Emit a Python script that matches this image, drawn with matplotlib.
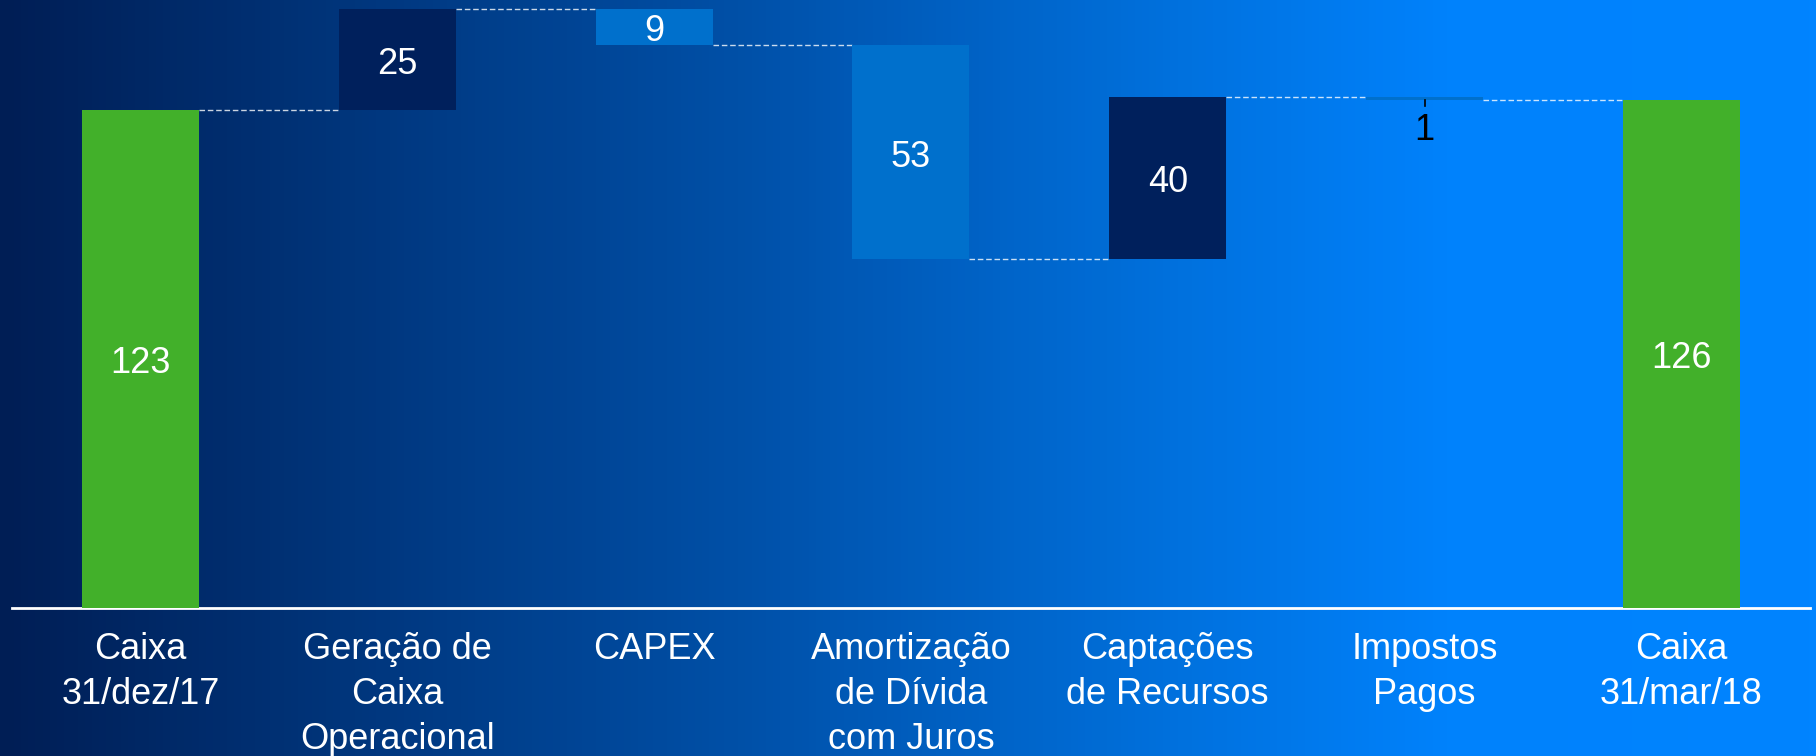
import numpy as np
import matplotlib.pyplot as plt
from matplotlib.colors import LinearSegmentedColormap

plt.rcParams['font.family'] = ['Liberation Sans', 'DejaVu Sans']

# data
categories = ['Caixa\n31/dez/17', 'Geração de\nCaixa\nOperacional', 'CAPEX',
              'Amortização\nde Dívida\ncom Juros', 'Captações\nde Recursos',
              'Impostos\nPagos', 'Caixa\n31/mar/18']
start_value = 122.9
changes = [24.9, -8.9, -52.9, 40.1, -0.7]
end_value = 125.4
value_labels = ['123', '25', '9', '53', '40', '1', '126']

green = '#42b02a'
navy = '#00205c'
mid_blue = '#0070cc'
bar_colors = [green, navy, mid_blue, mid_blue, navy, mid_blue, green]
label_colors = ['white', 'white', 'white', 'white', 'white', 'black', 'white']

# bottoms / heights of the floating bars
bottoms = [0]
heights = [start_value]
levels = [start_value]
level = start_value
for c in changes:
    bottoms.append(min(level, level + c))
    heights.append(abs(c))
    level = level + c
    levels.append(level)
bottoms.append(0)
heights.append(end_value)

fig = plt.figure(figsize=(18.16, 7.56), dpi=100)

# gradient background
bg = fig.add_axes([0, 0, 1, 1], zorder=0)
cmap = LinearSegmentedColormap.from_list(
    'bg', [(0, '#001e55'), (0.4, '#004fa6'), (0.64, '#0070dc'),
           (0.8, '#0082fc'), (1, '#0084ff')])
bg.imshow(np.linspace(0, 1, 512).reshape(1, -1), cmap=cmap, aspect='auto',
          extent=[0, 1, 0, 1])
bg.axis('off')

ax = fig.add_axes([0.0066, 0.1958, 0.99, 0.8042], zorder=1)
ax.patch.set_alpha(0)
x = np.arange(len(categories))
width = 0.455
ax.bar(x, heights, bottom=bottoms, width=width, color=bar_colors, zorder=3)

# dashed connectors between bars
for i in range(len(categories) - 1):
    ax.plot([x[i] + width / 2, x[i + 1] - width / 2], [levels[i], levels[i]],
            color='white', lw=1, ls=(0, (4, 2)), alpha=0.8, zorder=2)

# value labels
for i in range(len(categories)):
    if i == 5:
        ax.plot([x[i], x[i]], [bottoms[i], bottoms[i] - 1.5], color='black', lw=1.2, zorder=4)
        ax.text(x[i], bottoms[i] - 3.4, value_labels[i], ha='center', va='top',
                color=label_colors[i], fontsize=26, zorder=4)
    else:
        ax.annotate(value_labels[i], (x[i], bottoms[i] + heights[i] / 2),
                    xytext=(0, -3.5), textcoords='offset points', ha='center',
                    va='center', color=label_colors[i], fontsize=26, zorder=4)

ax.set_xlim(-0.5, 6.5)
ax.set_ylim(0, 150)
ax.set_xticks(x)
ax.set_xticklabels(categories, color='white', fontsize=26, linespacing=1.37)
ax.tick_params(axis='x', length=0, pad=17)
ax.set_yticks([])
for s in ['top', 'right', 'left']:
    ax.spines[s].set_visible(False)
ax.spines['bottom'].set_color('white')
ax.spines['bottom'].set_linewidth(2)

fig.savefig('out.png', dpi=100)
